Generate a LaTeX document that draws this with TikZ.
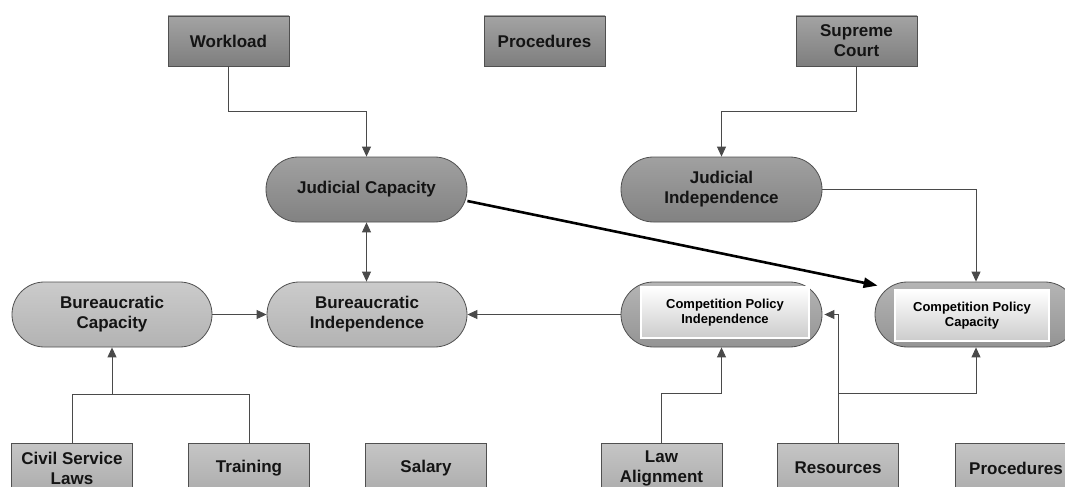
\documentclass[tikz,border=0pt]{standalone}
\usepackage{fontspec}
\setmainfont{Liberation Sans}
\usetikzlibrary{arrows.meta,positioning}
\definecolor{topbox}{HTML}{8C8C8C}
\definecolor{judfill}{HTML}{909090}
\definecolor{burfill}{HTML}{C2C2C2}
\definecolor{botbox}{HTML}{BBBBBB}
\definecolor{cpfill}{HTML}{A8A8A8}
\definecolor{edge}{HTML}{505050}
\definecolor{lineg}{HTML}{4A4A4A}
\tikzset{
  lbl/.style={font=\fontsize{17}{20}\selectfont\bfseries, align=center, text=black!92},
  sqbox/.style={lbl, draw=edge, line width=0.8pt, minimum width=121pt, minimum height=50pt, inner sep=0pt},
  topsq/.style={sqbox, top color=topbox!80!white, bottom color=topbox!90!black},
  botsq/.style={sqbox, top color=botbox!85!white, bottom color=botbox!92!black},
  pill/.style={lbl, draw=edge, line width=0.8pt, minimum width=201pt, minimum height=65pt, rounded corners=32.4pt, inner sep=0pt},
  judpill/.style={pill, top color=judfill!85!white, bottom color=judfill!90!black},
  burpill/.style={pill, top color=burfill!85!white, bottom color=burfill!92!black},
  cppill/.style={pill, top color=cpfill!85!white, bottom color=cpfill!88!black},
  inner/.style={font=\fontsize{13}{15.5}\selectfont\bfseries, align=center, draw=white, line width=1.6pt, top color=white, bottom color=black!20, minimum height=51pt, inner sep=0pt},
  conn/.style={draw=lineg, line width=0.9pt},
  arr/.style={conn, -{Triangle[length=10pt,width=9pt]}},
  darr/.style={conn, {Triangle[length=10pt,width=9pt]}-{Triangle[length=10pt,width=9pt]}},
}
\begin{document}
\begin{tikzpicture}[x=1pt,y=-1pt]
\useasboundingbox (0,0) rectangle (1065,487);
\clip (0,0) rectangle (1065,487);
\fill[white] (0,0) rectangle (1065,487);
% top row
\node[topsq] (work) at (228.5,41) {Workload};
\node[topsq] (proc) at (544.5,41) {Procedures};
\node[topsq] (sc) at (856.5,41) {Supreme\\Court};
% judicial
\node[judpill] (jc) at (366.5,189.5) {Judicial Capacity};
\node[judpill] (ji) at (721.5,189.5) {Judicial\\Independence};
% middle
\node[burpill, minimum width=200pt] (bc) at (112,314.5) {Bureaucratic\\Capacity};
\node[burpill, minimum width=200pt] (bi) at (367,314.5) {Bureaucratic\\Independence};
\node[cppill] (cpi) at (721.5,314.5) {};
\node[inner, minimum width=168pt] (cpit) at (725,312.5) {Competition Policy\\Independence};
\node[cppill, minimum width=202pt] (cpc) at (976,314.5) {};
\node[inner, minimum width=154pt] (cpct) at (972,315.5) {Competition Policy\\Capacity};
% bottom row
\node[botsq] (civ) at (72,468) {Civil Service\\Laws};
\node[botsq] (tra) at (249,468) {Training};
\node[botsq] (sal) at (426,468) {Salary};
\node[botsq] (law) at (661.5,468) {Law\\Alignment};
\node[botsq] (res) at (838,468) {Resources};
\node[botsq] (proc2) at (1016,468) {Procedures};
% connectors
\draw[arr] (work.south) -- ++(0,45) -| (jc.north);
\draw[arr] (sc.south) -- ++(0,45) -| (ji.north);
\draw[arr] (ji.east) -| (cpc.north);
\draw[darr] (jc.south) -- (jc.south |- bi.north);
\draw[arr] (bc.east) -- (bi.west);
\draw[arr] (cpi.west) -- (bi.east);
\draw[black, line width=2.6pt, -{Triangle[length=14pt,width=10pt]}] ([yshift=-11.5pt]jc.east) -- ([shift={(3pt,-4pt)}]cpc.north west);
\path (civ.north) ++(0,-48) coordinate (bj);
\draw[conn] (civ.north) -- (bj) -| (tra.north);
\draw[arr] (bc.south |- bj) -- (bc.south);
\draw[arr] (law.north) -- ++(0,-49) -| (cpi.south);
\draw[arr] (res.north) |- ([xshift=2pt]cpi.east);
\path (res.north) ++(0,-49) coordinate (rj);
\draw[arr] (rj) -| (cpc.south);
\end{tikzpicture}
\end{document}
